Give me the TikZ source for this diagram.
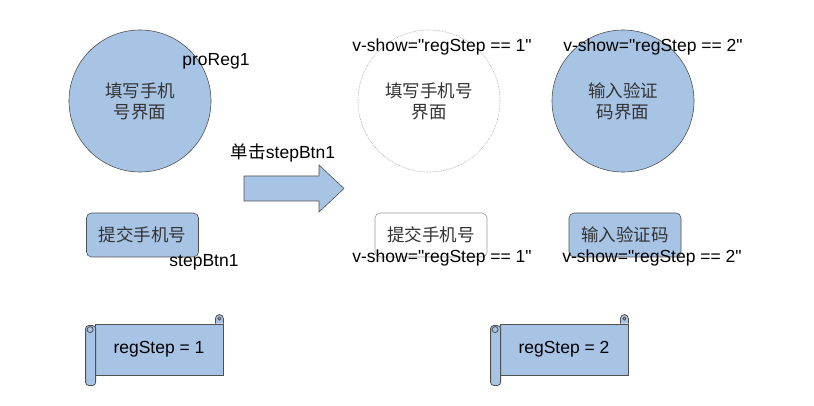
\documentclass[tikz,border=0pt]{standalone}
\usepackage{fontspec}
\setmainfont{Liberation Sans}
\newfontfamily\cjk{Noto Sans CJK SC}
\usetikzlibrary{positioning}
\definecolor{boxblue}{RGB}{168,196,228}
\definecolor{rimgray}{RGB}{80,80,80}
\newcommand{\qt}{\textquotedbl}
\tikzstyle{page} = [circle, minimum size=142pt, inner sep=0pt, align=center, font=\cjk\fontsize{17.5}{21}\selectfont, text=black!80]
\tikzstyle{filled} = [fill=boxblue, draw=rimgray, line width=0.6pt]
\tikzstyle{hidden} = [fill=white, draw=black!40, densely dotted, line width=0.6pt]
\tikzstyle{btn} = [rectangle, rounded corners=5pt, minimum width=112pt, minimum height=44pt, font=\cjk\fontsize{17.5}{21}\selectfont, text=black!80]
\tikzstyle{tag} = [inner sep=0pt, font=\fontsize{17.5}{21}\selectfont]
\tikzstyle{scroll} = [rectangle, fill=boxblue, draw=rimgray, line width=0.8pt, minimum width=128pt, minimum height=51pt, font=\fontsize{17.5}{21}\selectfont]

\begin{document}
\begin{tikzpicture}[x=1pt, y=-1pt, node distance=10pt]
\useasboundingbox (0,0) rectangle (814,406);

% pages
\node (pageA) [page, filled] at (140,101) {填写手机\\号界面};
\node (pageB) [page, hidden] at (429,101) {填写手机号\\界面};
\node (pageC) [page, filled] at (623,101) {输入验证\\码界面};
\node (proReg) [tag] at (216,61) {proReg1};
\node (showB) [tag] at (442,47) {v-show=\qt regStep == 1\qt};
\node (showC) [tag] at (653,47) {v-show=\qt regStep == 2\qt};

% click arrow
\draw [fill=boxblue, draw=rimgray, line width=0.6pt]
  (244,176) -- (319,176) -- (319,165) -- (344,188.5) -- (319,212) -- (319,201) -- (244,201) -- cycle;
\node (click) [tag] at (283,153) {{\cjk 单击}stepBtn1};

% buttons
\node (btnA) [btn, filled] at (142.5,235) {提交手机号};
\node (btnB) [btn, fill=white, draw=black!40, line width=0.6pt] at (431,235) {提交手机号};
\node (btnC) [btn, filled] at (625,235) {输入验证码};
\node (stepBtn) [tag] at (204,262) {stepBtn1};
\node (showBtnB) [tag] at (442,258) {v-show=\qt regStep == 1\qt};
\node (showBtnC) [tag] at (652,258) {v-show=\qt regStep == 2\qt};

% state scrolls
\foreach \name/\cx/\val in {scrollA/159/1, scrollB/564/2} {
  \node (\name) [scroll] at (\cx,349.5) {regStep = \val};
  \draw [fill=boxblue, draw=rimgray, line width=0.8pt, rounded corners=3pt]
    ([xshift=-9pt,yshift=-2pt]\name.north west) rectangle ([xshift=1pt,yshift=-10pt]\name.south west);
  \draw [draw=rimgray, line width=0.8pt] ([xshift=-4.5pt,yshift=-6pt]\name.north west) circle (3pt);
  \draw [fill=boxblue, draw=rimgray, line width=0.8pt]
    ([xshift=-8pt]\name.north east) -- ([xshift=-8pt,yshift=5pt]\name.north east)
    arc (180:0:4pt) -- (\name.north east);
  \draw [draw=rimgray, line width=0.8pt] ([xshift=-4pt,yshift=5pt]\name.north east) circle (1.5pt);
}
\end{tikzpicture}
\end{document}
